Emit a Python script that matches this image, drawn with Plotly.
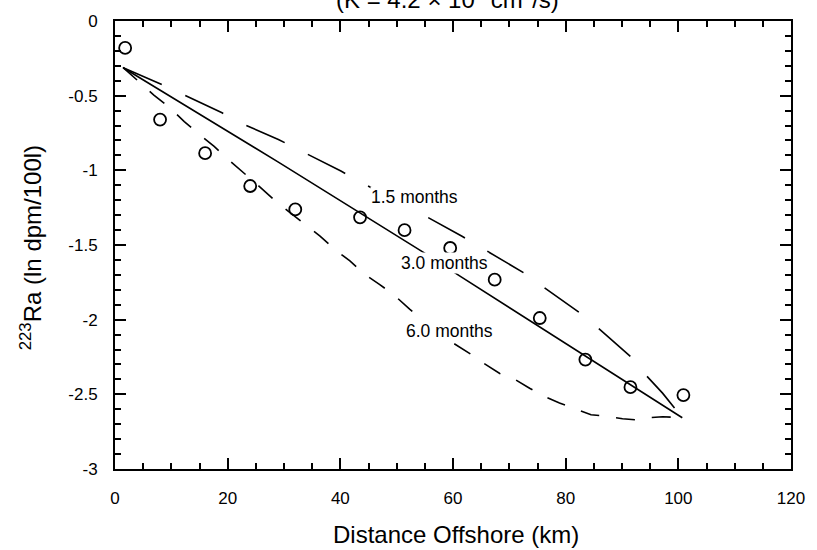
import plotly.graph_objects as go

# Observed 223Ra activities (ln dpm/100 l) versus distance offshore
dist_obs = [1.8, 8.0, 16.0, 24.0, 32.0, 43.5, 51.4, 59.5, 67.4, 75.4, 83.5, 91.5, 100.9]
ra_obs = [-0.18, -0.66, -0.885, -1.105, -1.262, -1.315, -1.401, -1.520, -1.732, -1.989, -2.267, -2.452, -2.505]

# Model curves for different mixing times
dist_15 = [1.46, 8.2, 12.3, 19.0, 23.0, 29.0, 40.1, 44.9, 54.9, 61.6, 65.7, 72.5,
           76.2, 83.1, 87.1, 91.5, 93.3, 97.2, 100.7]
ra_15 = [-0.313, -0.423, -0.496, -0.615, -0.694, -0.793, -1.005, -1.104, -1.302, -1.441,
         -1.533, -1.685, -1.785, -1.970, -2.100, -2.247, -2.333, -2.492, -2.657]

dist_30 = [1.46, 29.0, 54.9, 61.1, 100.7]
ra_30 = [-0.313, -0.945, -1.553, -1.705, -2.657]

dist_60 = [1.4, 4.4, 6.9, 9.7, 12.3, 15.0, 17.6, 20.2, 23.1, 25.5, 29.0, 33.5, 36.4, 39.1,
           41.7, 44.4, 47.0, 49.6, 52.3, 55.1, 60.2, 63.0, 65.5, 68.3, 71.0, 73.6, 76.1,
           78.9, 81.5, 84.5, 86.8, 90.1, 92.4, 94.7, 97.2, 100.7]
ra_60 = [-0.31, -0.41, -0.496, -0.58, -0.674, -0.76, -0.84, -0.93, -1.024, -1.104, -1.223,
         -1.355, -1.44, -1.533, -1.606, -1.699, -1.765, -1.837, -1.93, -2.016, -2.161, -2.227,
         -2.293, -2.36, -2.40, -2.459, -2.512, -2.558, -2.597, -2.637, -2.644, -2.664, -2.670,
         -2.657, -2.650, -2.657]

curve_labels = ["1.5 months", "3.0 months", "6.0 months"]
label_x = [53.1, 58.45, 59.4]
label_y = [-1.176, -1.619, -2.075]

x_tickvals = [0, 20, 40, 60, 80, 100, 120]
x_ticktext = ["0", "20", "40", "60", "80", "100", "120"]
y_tickvals = [0, -0.5, -1, -1.5, -2, -2.5, -3]
y_ticktext = ["0", "-0.5", "-1", "-1.5", "-2", "-2.5", "-3"]

FONT = "Liberation Sans, Arial, Helvetica, sans-serif"

fig = go.Figure()
fig.add_trace(go.Scatter(x=dist_15, y=ra_15, mode="lines",
                         line=dict(color="black", width=1.6, dash="42px,26px"),
                         showlegend=False, hoverinfo="skip"))
fig.add_trace(go.Scatter(x=dist_30, y=ra_30, mode="lines",
                         line=dict(color="black", width=1.6),
                         showlegend=False, hoverinfo="skip"))
fig.add_trace(go.Scatter(x=dist_60, y=ra_60, mode="lines",
                         line=dict(color="black", width=1.6, dash="19px,17px"),
                         showlegend=False, hoverinfo="skip"))
fig.add_trace(go.Scatter(x=dist_obs, y=ra_obs, mode="markers",
                         marker=dict(symbol="circle-open", size=12, color="black",
                                     line=dict(width=1.8, color="black")),
                         showlegend=False))

for txt, lx, ly in zip(curve_labels, label_x, label_y):
    fig.add_annotation(x=lx, y=ly, xref="x", yref="y", text=txt, showarrow=False,
                       font=dict(family=FONT, size=17.5, color="black"),
                       bgcolor="white", borderpad=0)

axis_common = dict(showgrid=False, zeroline=False, showline=True, linecolor="black",
                   linewidth=2, mirror="ticks", ticks="inside", ticklen=11,
                   tickwidth=2, tickcolor="black",
                   tickfont=dict(family=FONT, size=17, color="black"))

fig.update_xaxes(range=[0, 120], tickmode="array", tickvals=x_tickvals, ticktext=x_ticktext,
                 minor=dict(dtick=5, ticks="inside", ticklen=6, tickwidth=2, tickcolor="black"),
                 ticklabelstandoff=13, **axis_common)
fig.update_yaxes(range=[-3, 0], tickmode="array", tickvals=y_tickvals, ticktext=y_ticktext,
                 minor=dict(dtick=0.1, tick0=0, ticks="inside", ticklen=6, tickwidth=2,
                            tickcolor="black"),
                 ticklabelstandoff=12, **axis_common)

# Axis titles and heading
fig.add_annotation(x=0.505, y=-0.1454, xref="paper", yref="paper",
                   text="Distance Offshore (km)", showarrow=False,
                   font=dict(family=FONT, size=24, color="black"),
                   xanchor="center", yanchor="middle")
fig.add_annotation(x=-0.124, y=0.493, xref="paper", yref="paper",
                   text="<sup>223</sup>Ra (ln dpm/100l)", showarrow=False, textangle=-90,
                   font=dict(family=FONT, size=24, color="black"),
                   xanchor="center", yanchor="middle")
fig.add_annotation(x=0.492, y=1.0507, xref="paper", yref="paper",
                   text="(K = 4.2 × 10<sup>6</sup> cm<sup>2</sup>/s)", showarrow=False,
                   font=dict(family=FONT, size=24, color="black"),
                   xanchor="center", yanchor="middle")

fig.update_layout(width=817, height=550,
                  margin=dict(l=115, r=20, t=15, b=81),
                  plot_bgcolor="white", paper_bgcolor="white")

fig.write_html("out.html")
